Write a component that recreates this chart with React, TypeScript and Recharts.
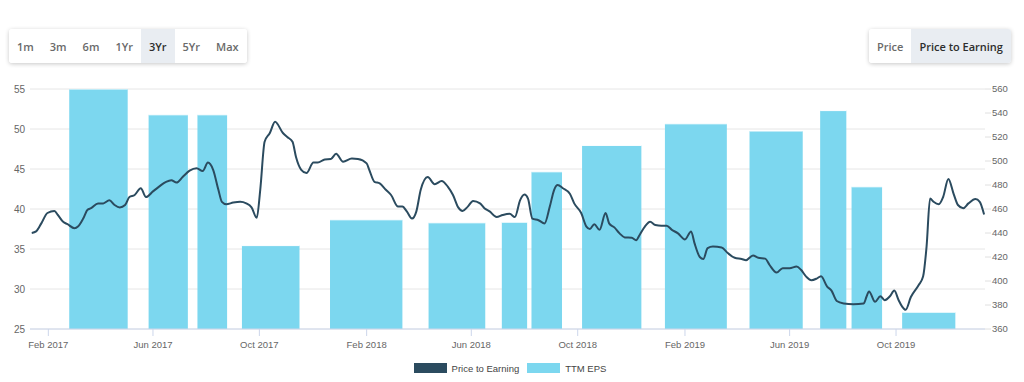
import React from 'react';
import { ComposedChart, Line, Area, XAxis, YAxis, CartesianGrid, Legend } from 'recharts';

// P/E line: [date, value]
const priceToEarning: [string, number][] = [
  ['2017-01-13', 37.0], ['2017-01-18', 37.2], ['2017-01-24', 38.2], ['2017-01-31', 39.5],
  ['2017-02-08', 39.75], ['2017-02-12', 39.25], ['2017-02-18', 38.4], ['2017-02-23', 38.1],
  ['2017-03-03', 37.6], ['2017-03-07', 37.8], ['2017-03-13', 38.8], ['2017-03-18', 39.9],
  ['2017-03-22', 40.1], ['2017-03-30', 40.7], ['2017-04-05', 40.7], ['2017-04-12', 41.1],
  ['2017-04-18', 40.5], ['2017-04-24', 40.2], ['2017-04-30', 40.5], ['2017-05-05', 41.5],
  ['2017-05-11', 41.75], ['2017-05-18', 42.6], ['2017-05-24', 41.5], ['2017-06-01', 42.2],
  ['2017-06-08', 42.8], ['2017-06-16', 43.4], ['2017-06-22', 43.6], ['2017-06-28', 43.3],
  ['2017-07-05', 44.0], ['2017-07-13', 44.8], ['2017-07-21', 45.1], ['2017-07-28', 44.75],
  ['2017-08-03', 45.8], ['2017-08-09', 44.9], ['2017-08-15', 42.4], ['2017-08-19', 40.9],
  ['2017-08-24', 40.6], ['2017-09-01', 40.8], ['2017-09-09', 40.9], ['2017-09-16', 40.7],
  ['2017-09-22', 40.2], ['2017-09-28', 38.9], ['2017-10-02', 42.4], ['2017-10-07', 48.4],
  ['2017-10-13', 49.5], ['2017-10-19', 50.9], ['2017-10-28', 49.5], ['2017-11-02', 49.0],
  ['2017-11-08', 48.4], ['2017-11-12', 46.5], ['2017-11-18', 44.9], ['2017-11-24', 44.5],
  ['2017-12-02', 45.8], ['2017-12-07', 45.8], ['2017-12-15', 46.2], ['2017-12-22', 46.25],
  ['2017-12-28', 46.9], ['2018-01-05', 45.9], ['2018-01-15', 46.3], ['2018-01-22', 46.25],
  ['2018-02-01', 45.7], ['2018-02-04', 44.9], ['2018-02-10', 43.4], ['2018-02-16', 43.2],
  ['2018-02-23', 42.4], ['2018-03-01', 41.75], ['2018-03-09', 40.3], ['2018-03-14', 40.3],
  ['2018-03-19', 39.7], ['2018-03-25', 38.8], ['2018-03-30', 39.7], ['2018-04-04', 42.4],
  ['2018-04-12', 44.0], ['2018-04-20', 43.1], ['2018-04-28', 43.5], ['2018-05-05', 42.8],
  ['2018-05-11', 41.75], ['2018-05-17', 40.2], ['2018-05-22', 39.75], ['2018-05-28', 40.3],
  ['2018-06-03', 41.0], ['2018-06-11', 40.7], ['2018-06-16', 40.1], ['2018-06-22', 39.7],
  ['2018-06-30', 39.0], ['2018-07-07', 39.25], ['2018-07-15', 39.4], ['2018-07-21', 39.0],
  ['2018-07-27', 41.1], ['2018-08-01', 41.8], ['2018-08-05', 41.3], ['2018-08-10', 38.8],
  ['2018-08-17', 38.6], ['2018-08-24', 38.2], ['2018-08-30', 40.3], ['2018-09-04', 42.4],
  ['2018-09-08', 43.0], ['2018-09-14', 42.6], ['2018-09-22', 41.9], ['2018-09-27', 40.7],
  ['2018-10-05', 39.5], ['2018-10-11', 37.8], ['2018-10-15', 37.5], ['2018-10-20', 38.1],
  ['2018-10-26', 37.4], ['2018-11-02', 39.5], ['2018-11-06', 38.2], ['2018-11-12', 37.7],
  ['2018-11-18', 36.95], ['2018-11-24', 36.45], ['2018-12-02', 36.4], ['2018-12-07', 36.1],
  ['2018-12-11', 36.75], ['2018-12-17', 37.8], ['2018-12-23', 38.4], ['2018-12-29', 38.0],
  ['2019-01-05', 37.9], ['2019-01-11', 37.9], ['2019-01-17', 37.4], ['2019-01-24', 36.95],
  ['2019-02-01', 36.2], ['2019-02-08', 37.2], ['2019-02-12', 35.7], ['2019-02-18', 34.0],
  ['2019-02-22', 33.75], ['2019-02-27', 35.1], ['2019-03-05', 35.3], ['2019-03-15', 35.2],
  ['2019-03-22', 34.5], ['2019-03-30', 33.9], ['2019-04-07', 33.75], ['2019-04-12', 33.6],
  ['2019-04-20', 34.2], ['2019-04-26', 33.9], ['2019-05-04', 33.8], ['2019-05-09', 33.0],
  ['2019-05-17', 32.05], ['2019-05-24', 32.6], ['2019-06-01', 32.6], ['2019-06-09', 32.8],
  ['2019-06-14', 32.4], ['2019-06-20', 31.55], ['2019-06-26', 31.1], ['2019-07-02', 31.3],
  ['2019-07-07', 31.6], ['2019-07-14', 30.3], ['2019-07-19', 29.8], ['2019-07-25', 28.5],
  ['2019-08-02', 28.2], ['2019-08-13', 28.1], ['2019-08-25', 28.2], ['2019-08-28', 29.0],
  ['2019-08-31', 29.7], ['2019-09-07', 28.4], ['2019-09-13', 29.1], ['2019-09-18', 28.6],
  ['2019-09-24', 29.1], ['2019-09-29', 29.8], ['2019-10-04', 28.6], ['2019-10-08', 27.8],
  ['2019-10-12', 27.4], ['2019-10-18', 29.0], ['2019-10-27', 30.5], ['2019-11-01', 31.55],
  ['2019-11-05', 35.3], ['2019-11-09', 41.3], ['2019-11-13', 40.9], ['2019-11-19', 40.6],
  ['2019-11-24', 41.5], ['2019-11-30', 43.75], ['2019-12-06', 41.9], ['2019-12-11', 40.5],
  ['2019-12-17', 40.1], ['2019-12-23', 40.7], ['2019-12-31', 41.25], ['2020-01-05', 40.9],
  ['2020-01-10', 39.3],
];

// TTM EPS bars: [from, to, value]
const ttmEps: [string, string, number][] = [
  ['2017-02-25', '2017-05-03', 560],
  ['2017-05-27', '2017-07-11', 538.5],
  ['2017-07-22', '2017-08-25', 538.5],
  ['2017-09-11', '2017-11-16', 429.5],
  ['2017-12-21', '2018-03-14', 451],
  ['2018-04-13', '2018-06-17', 448.5],
  ['2018-07-06', '2018-08-04', 449],
  ['2018-08-09', '2018-09-13', 491],
  ['2018-10-06', '2018-12-13', 513],
  ['2019-01-09', '2019-03-21', 531],
  ['2019-04-16', '2019-06-16', 525],
  ['2019-07-06', '2019-08-05', 542],
  ['2019-08-11', '2019-09-15', 478.5],
  ['2019-10-08', '2019-12-08', 374],
];

const xTicks = ['2017-02-01', '2017-06-01', '2017-10-01', '2018-02-01', '2018-06-01',
  '2018-10-01', '2019-02-01', '2019-06-01', '2019-10-01'];
const leftTicks = [25, 30, 35, 40, 45, 50, 55];
const rightTicks = [360, 380, 400, 420, 440, 460, 480, 500, 520, 540, 560];
const months = ['Jan', 'Feb', 'Mar', 'Apr', 'May', 'Jun', 'Jul', 'Aug', 'Sep', 'Oct', 'Nov', 'Dec'];
const rangeButtons = ['1m', '3m', '6m', '1Yr', '3Yr', '5Yr', 'Max'];
const modeButtons = ['Price', 'Price to Earning'];

const toTime = (s: string) => Date.parse(s + 'T00:00:00Z');
const fmtMonth = (t: number) => {
  const d = new Date(t);
  return `${months[d.getUTCMonth()]} ${d.getUTCFullYear()}`;
};

const LINE = '#2b4b5f';
const BAR = '#7cd7ef';
const FONT = 'Helvetica, Arial, "Liberation Sans", sans-serif';
const tickStyle = { fontSize: 9.5, fill: '#666', fontFamily: FONT };
const yTickStyle = { fontSize: 10, fill: '#666', fontFamily: FONT };

const data = priceToEarning.map(([d, v]) => ({ t: toTime(d), pe: v }));

// each EPS period becomes a flat block; a null point after it breaks the area
const epsData = ttmEps.flatMap(([from, to, v]) => [
  { t: toTime(from), eps: v },
  { t: toTime(to), eps: v },
  { t: toTime(to) + 1, eps: null },
]);

const btnGroup: React.CSSProperties = {
  position: 'absolute',
  top: 29,
  height: 34,
  display: 'flex',
  background: '#fff',
  borderRadius: 3,
  boxShadow: '0 1px 4px rgba(0,0,0,0.22)',
  overflow: 'hidden',
  fontFamily: '"Open Sans", sans-serif',
  fontWeight: 600,
  fontSize: 11,
};

const Btn = ({ label, active }: { label: string; active: boolean }) => (
  <div
    style={{
      padding: '0 8px',
      display: 'flex',
      alignItems: 'center',
      background: active ? '#e9edf2' : '#fff',
      color: active ? '#2d2d2d' : '#6a6a6a',
    }}
  >
    {label}
  </div>
);

const renderLegend = () => (
  <div
    style={{
      height: 28,
      display: 'flex',
      justifyContent: 'center',
      alignItems: 'center',
      fontFamily: FONT,
      fontSize: 9.5,
      color: '#444',
      paddingRight: 4,
    }}
  >
    <span style={{ display: 'flex', alignItems: 'center', marginRight: 8 }}>
      <span style={{ width: 33, height: 10, background: LINE, marginRight: 5 }} />
      Price to Earning
    </span>
    <span style={{ display: 'flex', alignItems: 'center' }}>
      <span style={{ width: 33, height: 10, background: BAR, marginRight: 5 }} />
      TTM EPS
    </span>
  </div>
);

export default function App() {
  return (
    <div style={{ position: 'relative', width: 1024, height: 382, background: '#fff' }}>
      <style>{'body{margin:0}'}</style>
      <div style={{ ...btnGroup, left: 9 }}>
        {rangeButtons.map((b) => (
          <Btn key={b} label={b} active={b === '3Yr'} />
        ))}
      </div>
      <div style={{ ...btnGroup, left: 869 }}>
        {modeButtons.map((b) => (
          <Btn key={b} label={b} active={b === 'Price to Earning'} />
        ))}
      </div>
      <ComposedChart
        width={1024}
        height={382}
        data={data}
        margin={{ top: 89, right: 0, bottom: 0, left: 0 }}
      >
        <CartesianGrid yAxisId="left" vertical={false} stroke="#e6e6e6" />
        <XAxis
          dataKey="t"
          type="number"
          domain={[toTime('2017-01-11'), toTime('2020-01-11')]}
          ticks={xTicks.map(toTime)}
          tickFormatter={fmtMonth}
          height={25}
          tickSize={7}
          tickMargin={5}
          stroke="#ccd6eb"
          tick={tickStyle}
          allowDataOverflow
        />
        <YAxis
          yAxisId="left"
          domain={[25, 55]}
          ticks={leftTicks}
          width={30}
          axisLine={false}
          tickLine={false}
          tickSize={0}
          tickMargin={5}
          tick={yTickStyle}
        />
        <YAxis
          yAxisId="right"
          orientation="right"
          domain={[360, 560]}
          ticks={rightTicks}
          width={39}
          axisLine={false}
          tickLine={{ stroke: '#e0e0e0' }}
          tickSize={6}
          tickMargin={1}
          tick={tickStyle}
          allowDataOverflow
        />
        <Area
          yAxisId="right"
          data={epsData}
          dataKey="eps"
          name="TTM EPS"
          type="linear"
          baseValue={360}
          fill={BAR}
          fillOpacity={1}
          stroke="#fff"
          strokeWidth={1}
          dot={false}
          activeDot={false}
          connectNulls={false}
          isAnimationActive={false}
        />
        <Line
          yAxisId="left"
          type="monotone"
          dataKey="pe"
          name="Price to Earning"
          stroke={LINE}
          strokeWidth={2}
          dot={false}
          activeDot={false}
          isAnimationActive={false}
        />
        <Legend verticalAlign="bottom" height={28} content={renderLegend} />
      </ComposedChart>
    </div>
  );
}
